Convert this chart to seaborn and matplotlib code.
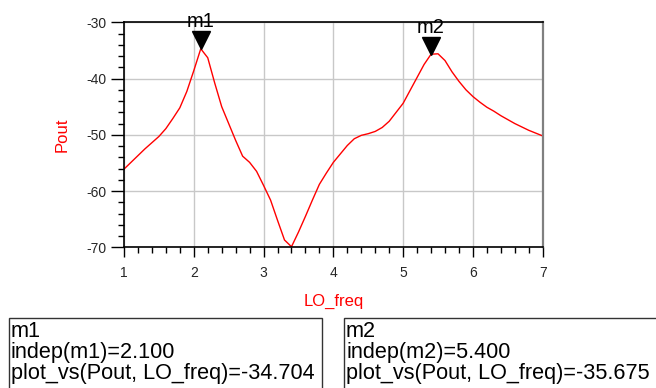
import matplotlib
matplotlib.use("Agg")
import matplotlib.pyplot as plt
import matplotlib.transforms as mtransforms
from matplotlib.patches import Rectangle
from matplotlib.ticker import MultipleLocator
import seaborn as sns
import pandas as pd

LO_freq = [1.0, 1.1, 1.2, 1.3, 1.4, 1.5, 1.6, 1.7, 1.8, 1.9,
           2.0, 2.1, 2.2, 2.3, 2.4, 2.5, 2.6, 2.7, 2.8, 2.9,
           3.0, 3.1, 3.2, 3.3, 3.4, 3.5, 3.6, 3.7, 3.8, 3.9,
           4.0, 4.1, 4.2, 4.3, 4.4, 4.5, 4.6, 4.7, 4.8, 4.9,
           5.0, 5.1, 5.2, 5.3, 5.4, 5.5, 5.6, 5.7, 5.8, 5.9,
           6.0, 6.1, 6.2, 6.3, 6.4, 6.5, 6.6, 6.7, 6.8, 6.9, 7.0]
Pout = [-56.1, -54.9, -53.7, -52.5, -51.4, -50.3, -48.9, -47.1, -45.2, -42.3,
        -38.6, -34.704, -36.3, -40.8, -45.0, -48.0, -51.0, -53.8, -54.9, -56.5,
        -59.0, -61.6, -65.2, -68.7, -69.9, -67.3, -64.5, -61.6, -58.8, -56.8,
        -54.9, -53.4, -51.9, -50.7, -50.1, -49.8, -49.4, -48.7, -47.6, -46.0,
        -44.4, -42.1, -39.8, -37.5, -35.675, -35.6, -36.8, -38.8, -40.5, -42.0,
        -43.2, -44.2, -45.1, -45.8, -46.6, -47.3, -48.0, -48.6, -49.2, -49.7, -50.2]

marker_names = ["m1", "m2"]
marker_x = [2.1, 5.4]
marker_y = [-34.704, -35.675]

x_ticks = [1, 2, 3, 4, 5, 6, 7]
y_ticks = [-70, -60, -50, -40, -30]

sns.set_theme(style="white")
plt.rcParams["font.family"] = ["Liberation Sans", "DejaVu Sans"]

fig = plt.figure(figsize=(6.56, 3.88), dpi=100)
ax = fig.add_axes([124 / 656, 1 - 247.3 / 388, (542.7 - 124) / 656, (247.3 - 22.3) / 388])

df = pd.DataFrame({"LO_freq": LO_freq, "Pout": Pout})
sns.lineplot(data=df, x="LO_freq", y="Pout", ax=ax, color="#ff0000", linewidth=1.0)

ax.set_xlim(1, 7)
ax.set_ylim(-70, -30)
ax.set_xticks(x_ticks)
ax.set_yticks(y_ticks)
ax.set_xticklabels([str(t) for t in x_ticks])
ax.set_yticklabels([str(t) for t in y_ticks])
ax.xaxis.set_minor_locator(MultipleLocator(0.2))
ax.yaxis.set_minor_locator(MultipleLocator(2))
ax.grid(True, which="major", color="#c8c8c8", linewidth=1.0)
ax.set_axisbelow(True)

ax.tick_params(axis="x", which="major", direction="out", length=7.5, width=1.0,
               color="black", labelsize=10, pad=6, bottom=True)
ax.tick_params(axis="x", which="minor", direction="out", length=4.5, width=1.0,
               color="black", bottom=True)
ax.tick_params(axis="y", which="major", direction="out", length=9.5, width=1.0,
               color="black", labelsize=10, pad=3, left=True)
ax.tick_params(axis="y", which="minor", direction="out", length=4.5, width=1.0,
               color="black", left=True)

for s in ["left", "bottom", "top"]:
    ax.spines[s].set_color("black")
    ax.spines[s].set_linewidth(1.2)
ax.spines["right"].set_color("#808080")
ax.spines["right"].set_linewidth(1.6)

ax.set_xlabel("LO_freq", color="#ff0000", fontsize=12, labelpad=10)
ax.set_ylabel("Pout", color="#ff0000", fontsize=12, labelpad=12)

ms = 12.5
tri_tr = mtransforms.offset_copy(ax.transData, fig=fig, x=0, y=ms / 2, units="points")
for name, mx, my in zip(marker_names, marker_x, marker_y):
    ax.plot([mx], [my], marker="v", markersize=ms, color="black",
            transform=tri_tr, clip_on=False, zorder=5)
    ax.annotate(name, (mx, my), xytext=(0, ms), textcoords="offset points",
                ha="center", va="bottom", fontsize=14.5, color="black",
                annotation_clip=False, zorder=6)

# marker readout boxes
box_specs = [(9, 322), (344, 680)]
for (x0, x1), name, mx, my in zip(box_specs, marker_names, marker_x, marker_y):
    fig.patches.append(Rectangle((x0 / 656, -0.05), (x1 - x0) / 656, 0.05 + 1 - 318.5 / 388,
                                 transform=fig.transFigure, fill=False,
                                 edgecolor="#333333", linewidth=1.0))
    lines = [name, f"indep({name})={mx:.3f}", f"plot_vs(Pout, LO_freq)={my:.3f}"]
    for i, line in enumerate(lines):
        fig.text((x0 + 2) / 656, 1 - (337 + 21 * i) / 388, line, fontsize=15.6,
                 color="black", ha="left", va="baseline")

fig.savefig("out.png", dpi=100)
